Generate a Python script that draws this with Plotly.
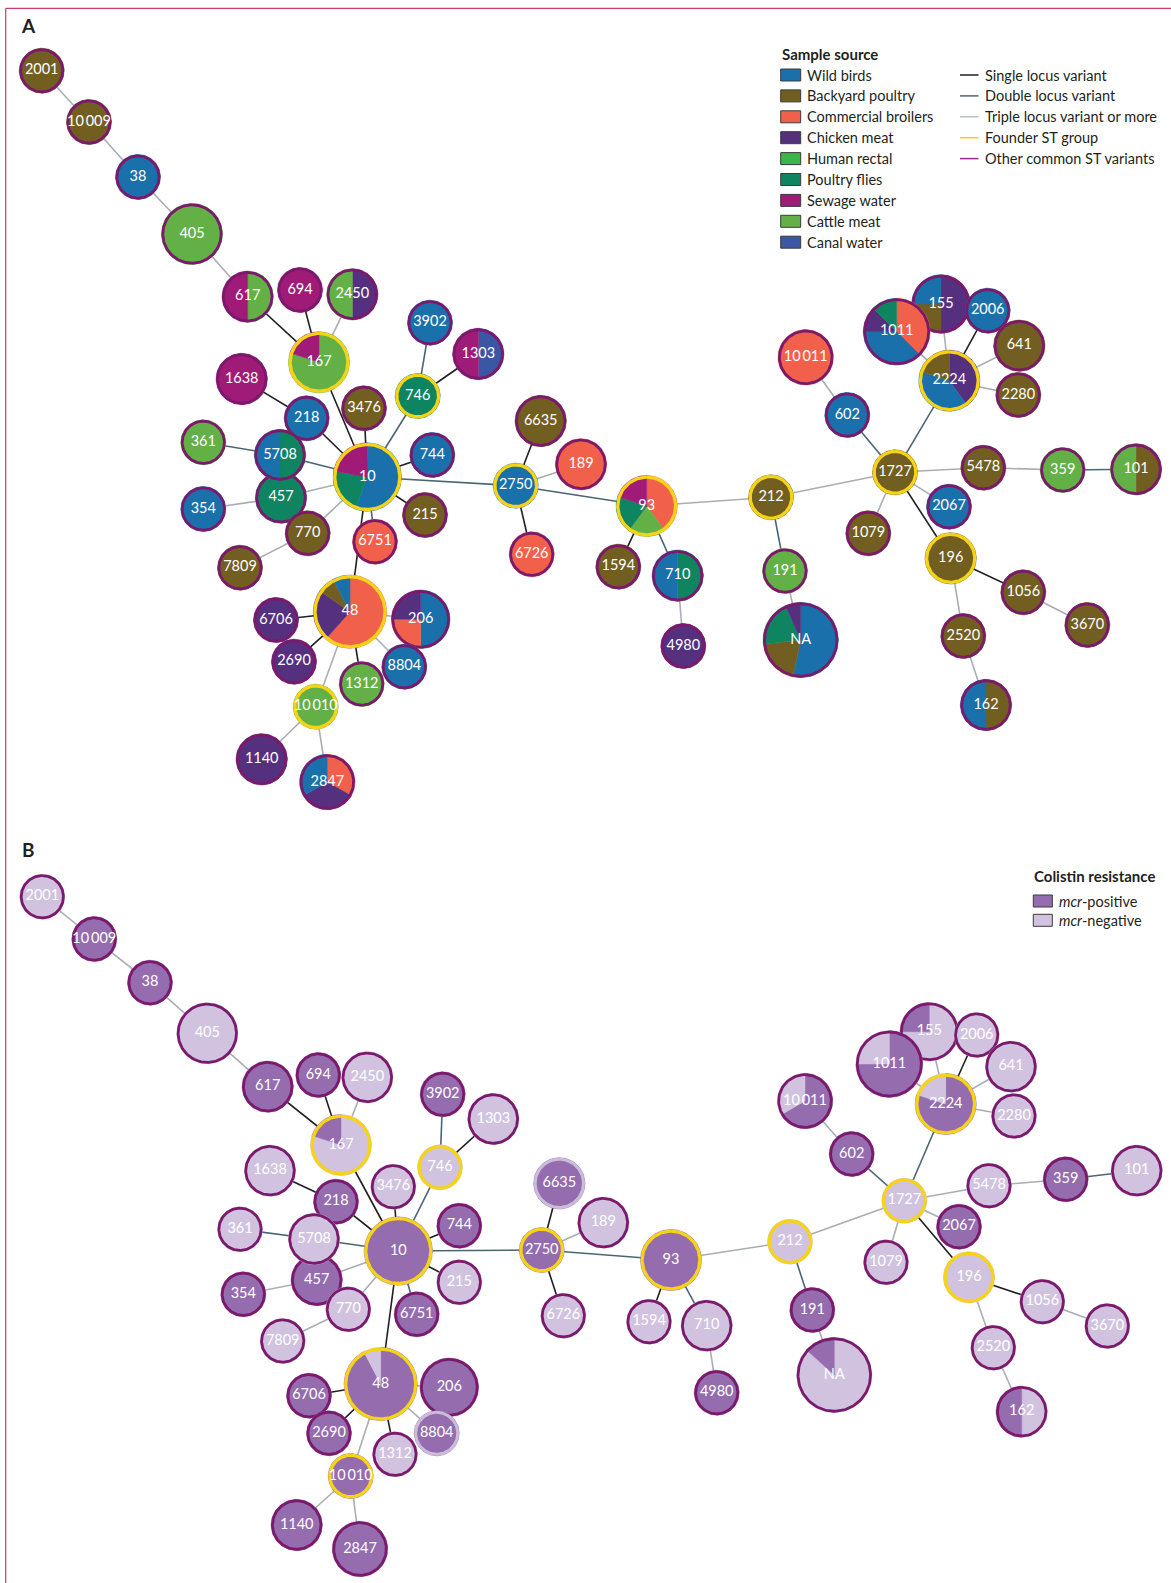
import math
import plotly.graph_objects as go

W, H = 1171, 1583

# ---------------- data ----------------
SOURCES = ["Wild birds", "Backyard poultry", "Commercial broilers", "Chicken meat",
           "Human rectal", "Poultry flies", "Sewage water", "Cattle meat", "Canal water"]
SOURCE_COLORS = ["#1a70ab", "#735e22", "#f1604a", "#55307f", "#3cb54a",
                 "#0f8461", "#a01b78", "#63b146", "#3b56a5"]
SRC_CODE = {"W": 0, "B": 1, "C": 2, "M": 3, "H": 4, "F": 5, "S": 6, "K": 7, "N": 8}

MCR = ["mcr-positive", "mcr-negative"]
MCR_COLORS = ["#956cae", "#d1c3e0"]
MCR_CODE = {"P": 0, "N": 1}

ST = ["2001", "10009", "38", "405", "617", "694", "2450", "167", "1638", "218", "3476",
      "746", "3902", "1303", "361", "457", "5708", "10", "744", "354", "770", "215",
      "6751", "7809", "48", "206", "6706", "2690", "8804", "1312", "10010", "1140",
      "2847", "6635", "189", "2750", "6726", "93", "1594", "710", "4980", "212", "191",
      "NA", "10011", "602", "155", "2006", "1011", "641", "2224", "2280", "1727",
      "5478", "359", "101", "2067", "1079", "196", "1056", "3670", "2520", "162"]

# sample-source slices per ST (clockwise from 12 o'clock): source code, isolate count
SOURCE_SLICES = [
    "B1", "B1", "W1", "K5", "K1 S1", "S1", "M1 K1", "K4 S1", "S2", "W1", "B1",
    "F1", "W1", "N1 S1", "K1", "F2", "F1 W1", "W5 F2 S2", "W1", "W1", "B1", "B1",
    "C1", "B1", "C8 M3 B1 W1", "W2 C1 M1", "M1", "M1", "W1", "K1", "K1", "M2",
    "C1 M1 W1", "B2", "C2", "W1", "C1", "C2 K1 F1 S1", "B1", "F1 W1", "M1", "B1", "K1",
    "W8 B3 F3 M1", "C3", "W1", "M2 B1 W1", "W1", "C3 W3 M1 F1", "B2", "M2 W2 B1", "B1", "B1",
    "B1", "K1", "B1 K1", "W1", "B1", "B2", "B1", "B1", "B1", "B1 W1"]

# colistin resistance slices per ST (clockwise from 12 o'clock): P = mcr-positive, N = mcr-negative
MCR_SLICES = [
    "N1", "P1", "P1", "N5", "P2", "P1", "N2", "N4 P1", "N2", "P1", "N1",
    "N1", "P1", "N2", "N1", "P2", "N2", "P9", "P1", "P1", "N1", "N1",
    "P1", "N1", "P12 N1", "P4", "P1", "P1", "P1", "N1", "P1", "P2",
    "P3", "P2", "N2", "P1", "N1", "P5", "N1", "N2", "P1", "N1", "P1",
    "N13 P2", "P2 N1", "P1", "N3 P1", "N1", "P6 N2", "N2", "P4 N1", "N1", "N1",
    "N1", "P1", "N2", "P1", "N1", "N2", "N1", "N1", "N1", "N1 P1"]

FOUNDER_ST = ["167", "746", "10", "2750", "93", "212", "48", "10010", "2224", "1727", "196"]

EDGE_FROM = ["2001", "10009", "38", "405", "617", "694", "2450", "167", "1638", "218", "3476",
             "746", "3902", "1303", "361", "5708", "457", "354", "770", "7809", "744", "215",
             "6751", "10", "10", "48", "48", "48", "48", "48", "48", "10010", "10010",
             "2750", "2750", "2750", "2750", "93", "93", "710", "93", "212", "191", "212",
             "1727", "602", "1727", "2224", "2224", "2224", "2224", "2224", "1727", "5478",
             "359", "1727", "1727", "1727", "196", "1056", "196", "2520"]
EDGE_TO = ["10009", "38", "405", "617", "167", "167", "167", "10", "218", "10", "10",
           "10", "746", "746", "5708", "10", "10", "457", "10", "770", "10", "10",
           "10", "48", "2750", "6706", "2690", "206", "8804", "1312", "10010", "1140", "2847",
           "6635", "189", "6726", "93", "1594", "710", "4980", "212", "191", "NA", "1727",
           "602", "10011", "2224", "1011", "155", "2006", "641", "2280", "5478", "359",
           "101", "2067", "1079", "196", "1056", "3670", "2520", "162"]
# 1 = single locus variant, 2 = double locus variant, 3 = triple locus variant or more
EDGE_TYPE = [3, 3, 3, 3, 1, 1, 3, 1, 1, 1, 1,
             2, 2, 1, 2, 2, 3, 3, 3, 3, 1, 1,
             2, 1, 2, 1, 1, 3, 3, 1, 3, 3, 3,
             1, 3, 1, 2, 1, 2, 3, 3, 2, 3, 3,
             2, 3, 2, 3, 3, 1, 3, 3, 3, 3,
             2, 3, 3, 1, 1, 3, 3, 3]

# ---------------- layout (node centres, page pixels) ----------------
POS_A = {
    "2001": (41.7, 70.7), "10009": (89, 122), "38": (138, 177), "405": (192, 234),
    "617": (247.7, 296.7), "694": (300, 290), "2450": (352.3, 294.3), "167": (319, 362.3),
    "1638": (241.7, 379), "3902": (430, 322.7), "1303": (478.3, 354), "746": (417.7, 396),
    "218": (306.7, 418.3), "3476": (364, 408.3), "361": (203.3, 442.3), "5708": (280, 455),
    "10": (367.3, 477), "744": (432.3, 455), "354": (203.3, 509), "457": (281, 497.7),
    "770": (307.7, 533.3), "215": (425, 515), "6751": (375, 541.7), "7809": (240, 567.7),
    "48": (350, 611.7), "206": (420.7, 619.3), "6706": (276, 620), "2690": (294, 661.7),
    "8804": (404.3, 666.7), "1312": (361.7, 684), "10010": (315.7, 706.7),
    "1140": (261.7, 759.3), "2847": (327.3, 782), "6635": (540.7, 421), "189": (581, 464.3),
    "2750": (515.7, 485.7), "6726": (531.7, 554.3), "93": (646.7, 506), "1594": (618.3, 566.7),
    "710": (677.7, 575.7), "4980": (683.3, 646), "212": (771, 497.3), "191": (785, 571),
    "NA": (800.7, 640), "10011": (805.7, 357.3), "602": (847.3, 415), "1011": (896.7, 331.7),
    "155": (941, 304), "2006": (987.7, 310.7), "641": (1019.3, 345.7), "2224": (949.3, 380.7),
    "2280": (1018.3, 395), "1727": (895, 472.3), "5478": (983.3, 467.7), "359": (1062.7, 470),
    "101": (1136, 469.3), "2067": (949, 506.7), "1079": (868.3, 533.3), "196": (950.7, 558.3),
    "1056": (1023.3, 592.3), "3670": (1087.3, 625), "2520": (963.3, 636), "162": (986, 705),
}
POS_B = {
    "2001": (42.3, 896.7), "10009": (94.3, 939), "38": (150, 982.7), "405": (207.3, 1033.3),
    "617": (267.7, 1086.7), "694": (318.3, 1075), "2450": (367.3, 1077.3), "167": (341, 1145),
    "3902": (442.7, 1094.3), "1303": (493.3, 1119), "746": (440, 1167.3), "1638": (270, 1170.7),
    "3476": (393.3, 1186.7), "218": (336, 1201.7), "744": (459.3, 1225.7), "361": (240, 1229.3),
    "5708": (314, 1239), "10": (398.3, 1251), "215": (459.3, 1282.3), "354": (243.3, 1294.3),
    "457": (316.7, 1280), "770": (348.3, 1309.3), "6751": (416.7, 1314.3), "7809": (282.7, 1341),
    "48": (380.7, 1384), "206": (449.3, 1387.3), "6706": (309, 1395.7), "2690": (329, 1433.3),
    "8804": (436.7, 1433.3), "1312": (395, 1454.3), "10010": (350.7, 1476),
    "1140": (296.7, 1525), "2847": (360, 1549), "6635": (559.3, 1183.3), "189": (603.3, 1222.7),
    "2750": (541.7, 1250), "6726": (563.3, 1315.7), "93": (671, 1260), "1594": (649, 1321.7),
    "710": (706.7, 1325.7), "4980": (716.7, 1392.7), "212": (790, 1241.7), "191": (812.3, 1310),
    "NA": (834.3, 1375), "10011": (805, 1101), "602": (851.7, 1154), "1011": (889.3, 1064),
    "155": (929.3, 1031.7), "2006": (976.7, 1035), "641": (1011, 1066.7), "2224": (945.7, 1104),
    "2280": (1014, 1116), "1727": (904.3, 1200.7), "5478": (989, 1185.7), "359": (1065.7, 1179.3),
    "101": (1136.7, 1170.7), "2067": (959, 1226.7), "1079": (886, 1262.3), "196": (969, 1277.3),
    "1056": (1042.3, 1301.7), "3670": (1107.3, 1326), "2520": (993.3, 1347.7), "162": (1021.7, 1411.7),
}
LIGHT_BORDER_B = ["6635", "8804"]

FONT = "Lato, 'Open Sans', sans-serif"
NODE_BORDER = "#7b1a6c"
FOUNDER_BORDER = "#f6d316"
EDGE_COLORS = {1: "#1f1f1f", 2: "#4b6673", 3: "#a8aeb3"}
TEXT_COLOR = "#231f20"


def parse(s, codes):
    out = []
    for tok in s.split():
        out.append((codes[tok[0]], int(tok[1:])))
    return out


def radius(n):
    return 22.5 * n ** 0.19


def circle_pts(cx, cy, r, n=120):
    xs, ys = [], []
    for k in range(n + 1):
        a = 2 * math.pi * k / n
        xs.append(cx + r * math.sin(a))
        ys.append(cy - r * math.cos(a))
    return xs, ys


def wedge_pts(cx, cy, r, a0, a1):
    steps = max(4, int(abs(a1 - a0) / 3) + 1)
    xs, ys = [cx], [cy]
    for k in range(steps + 1):
        a = math.radians(a0 + (a1 - a0) * k / steps)
        xs.append(cx + r * math.sin(a))
        ys.append(cy - r * math.cos(a))
    xs.append(cx)
    ys.append(cy)
    return xs, ys


totals = [sum(c for _, c in parse(s, SRC_CODE)) for s in SOURCE_SLICES]
RADIUS = {st: radius(t) for st, t in zip(ST, totals)}

fig = go.Figure()


def draw_panel(pos, slice_strs, codes, colors, light_border=()):
    # edges
    for et in (3, 2, 1):
        xs, ys = [], []
        for a, b, t in zip(EDGE_FROM, EDGE_TO, EDGE_TYPE):
            if t != et:
                continue
            xs += [pos[a][0], pos[b][0], None]
            ys += [pos[a][1], pos[b][1], None]
        fig.add_trace(go.Scatter(x=xs, y=ys, mode="lines",
                                 line=dict(color=EDGE_COLORS[et], width=1.6),
                                 hoverinfo="skip"))
    # nodes
    for st, s in zip(ST, slice_strs):
        cx, cy = pos[st]
        r = RADIUS[st]
        slices = parse(s, codes)
        tot = sum(c for _, c in slices)
        if len(slices) == 1:
            xs, ys = circle_pts(cx, cy, r)
            fig.add_trace(go.Scatter(x=xs, y=ys, mode="lines", fill="toself",
                                     fillcolor=colors[slices[0][0]],
                                     line=dict(color=colors[slices[0][0]], width=0.5),
                                     hoverinfo="skip"))
        else:
            a = 0.0
            for idx, c in slices:
                span = 360.0 * c / tot
                xs, ys = wedge_pts(cx, cy, r, a, a + span)
                fig.add_trace(go.Scatter(x=xs, y=ys, mode="lines", fill="toself",
                                         fillcolor=colors[idx],
                                         line=dict(color=colors[idx], width=0.5),
                                         hoverinfo="skip"))
                a += span
        if st in FOUNDER_ST:
            bc, bw = FOUNDER_BORDER, 3.3
        elif st in light_border:
            bc, bw = "#cbbdda", 3.0
        else:
            bc, bw = NODE_BORDER, 2.8
        xs, ys = circle_pts(cx, cy, r - bw / 2)
        fig.add_trace(go.Scatter(x=xs, y=ys, mode="lines",
                                 line=dict(color=bc, width=bw), hoverinfo="skip"))
    # labels
    labels = [st if not st.startswith("100") else st[:2] + "\u2009" + st[2:] for st in ST]
    fig.add_trace(go.Scatter(x=[pos[s][0] for s in ST], y=[pos[s][1] for s in ST],
                             mode="text", text=labels, textposition="middle center",
                             textfont=dict(family=FONT, size=14.5, color="white"),
                             hoverinfo="skip"))


draw_panel(POS_A, SOURCE_SLICES, SRC_CODE, SOURCE_COLORS)
draw_panel(POS_B, MCR_SLICES, MCR_CODE, MCR_COLORS, LIGHT_BORDER_B)

shapes = []
annotations = []

# page frame lines
shapes.append(dict(type="line", x0=5.7, y0=8.3, x1=W, y1=8.3, line=dict(color="#cf3a63", width=1.2)))
shapes.append(dict(type="line", x0=5.7, y0=8.3, x1=5.7, y1=H, line=dict(color="#cf3a63", width=1.2)))

# panel letters
annotations.append(dict(x=28.3, y=25.5, text="<b>A</b>", showarrow=False,
                        font=dict(family=FONT, size=19, color=TEXT_COLOR)))
annotations.append(dict(x=28.3, y=849, text="<b>B</b>", showarrow=False,
                        font=dict(family=FONT, size=19, color=TEXT_COLOR)))

# legend A: sample source
LX, LY0, LDY = 780.7, 75.0, 20.9
annotations.append(dict(x=LX - 1, y=54, text="<b>Sample source</b>", showarrow=False,
                        xanchor="left", font=dict(family=FONT, size=15, color=TEXT_COLOR)))
for i, (name, col) in enumerate(zip(SOURCES, SOURCE_COLORS)):
    y = LY0 + i * LDY
    shapes.append(dict(type="rect", x0=LX, x1=LX + 20, y0=y - 6, y1=y + 6,
                       fillcolor=col, line=dict(color="#3a3a3a", width=1)))
    annotations.append(dict(x=LX + 24.5, y=y, text=name, showarrow=False, xanchor="left",
                            font=dict(family=FONT, size=14.5, color=TEXT_COLOR)))

EDGE_LEGEND = ["Single locus variant", "Double locus variant", "Triple locus variant or more",
               "Founder ST group", "Other common ST variants"]
EDGE_LEGEND_COLORS = ["#1f1f1f", "#4b6673", "#b9c1c8", "#f5d000", "#9b2a8e"]
EX = 960.0
for i, (name, col) in enumerate(zip(EDGE_LEGEND, EDGE_LEGEND_COLORS)):
    y = LY0 + i * LDY
    shapes.append(dict(type="line", x0=EX, x1=EX + 18.5, y0=y, y1=y, line=dict(color=col, width=1.5)))
    annotations.append(dict(x=EX + 23, y=y, text=name, showarrow=False, xanchor="left",
                            font=dict(family=FONT, size=14.5, color=TEXT_COLOR)))

# legend B: colistin resistance
BX, BY0, BDY = 1033.3, 901.0, 19.3
annotations.append(dict(x=BX - 1, y=876, text="<b>Colistin resistance</b>", showarrow=False,
                        xanchor="left", font=dict(family=FONT, size=15, color=TEXT_COLOR)))
for i, (name, col) in enumerate(zip(MCR, MCR_COLORS)):
    y = BY0 + i * BDY
    shapes.append(dict(type="rect", x0=BX, x1=BX + 19, y0=y - 6, y1=y + 6,
                       fillcolor=col, line=dict(color="#3a3a3a", width=1)))
    annotations.append(dict(x=BX + 23.5, y=y, text="<i>mcr</i>" + name[3:], showarrow=False,
                            xanchor="left", font=dict(family=FONT, size=14.5, color=TEXT_COLOR)))

for a in annotations:
    a.setdefault("xref", "x")
    a.setdefault("yref", "y")
for s in shapes:
    s.setdefault("xref", "x")
    s.setdefault("yref", "y")

fig.update_layout(
    width=W, height=H, autosize=False,
    margin=dict(l=0, r=0, t=0, b=0),
    paper_bgcolor="white", plot_bgcolor="white",
    showlegend=False,
    xaxis=dict(range=[0, W], visible=False, fixedrange=True),
    yaxis=dict(range=[H, 0], visible=False, fixedrange=True),
    shapes=shapes, annotations=annotations,
    font=dict(family=FONT),
)

fig.write_html(
    "out.html",
    config={"displayModeBar": False, "staticPlot": True},
    post_script="document.body.style.margin='0';document.body.style.overflow='hidden';"
                "document.documentElement.style.overflow='hidden';",
)
